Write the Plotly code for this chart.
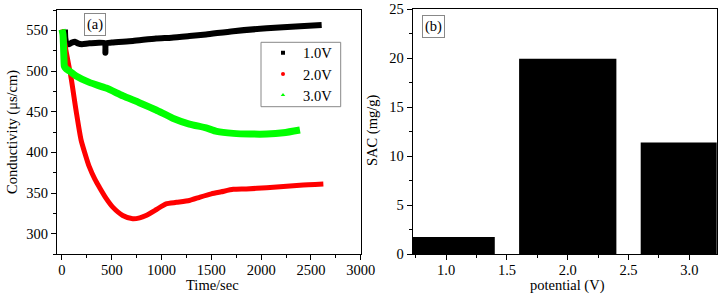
import plotly.graph_objects as go

# ---------------- data ----------------
t_1v = [30, 34, 45, 70, 100, 130, 160, 200, 275, 430, 436, 442, 500, 711, 945, 1100, 1280, 1447, 1720, 2056, 2390, 2608]
c_1v = [551, 540, 534, 533, 535, 536, 534, 533, 534, 534, 522.5, 534, 535, 537, 540, 541, 543, 545, 549, 552.5, 555, 556.5]

t_2v = [0, 20, 41, 91, 142, 192, 240, 275, 330, 376, 440, 510, 610, 711, 780, 844, 945, 1045, 1150, 1280, 1387, 1500, 1600, 1720, 1850, 2056, 2390, 2625]
c_2v = [551, 540, 524.6, 492, 451, 415, 395, 382, 367, 357, 344, 332.6, 322.4, 318.4, 319.5, 322.4, 329.4, 336.7, 338.5, 340.8, 345, 349, 351.5, 354.5, 355, 356.5, 359.5, 361]

t_3v = [0, 10, 20, 24, 40, 74, 142, 275, 443, 610, 777, 945, 1112, 1279, 1447, 1554, 1720, 1888, 2056, 2223, 2390]
c_3v = [551, 545, 515, 506, 503, 500, 494, 486, 479, 469.5, 461, 452, 442, 434.8, 430, 425.7, 423.3, 422.5, 422.5, 424, 427.4]

series_names = ["1.0V", "2.0V", "3.0V"]

potential = [1.0, 2.0, 3.0]
sac = [1.73, 19.95, 11.4]

# ---------------- figure ----------------
FONT = "Liberation Serif"
W, H = 720, 295

fig = go.Figure()

colors = ["#000000", "#ff0000", "#00ff00"]
symbols = ["square", "circle", "triangle-up"]
widths = [6, 5, 7]
for t, c, col, w in zip([t_1v, t_2v, t_3v], [c_1v, c_2v, c_3v], colors, widths):
    fig.add_trace(go.Scatter(x=t, y=c, mode="lines",
                             line=dict(color=col, width=w, shape="spline", smoothing=0.6),
                             showlegend=False, xaxis="x", yaxis="y"))

# legend entries (marker symbols as in the reference), one legend box per row
legend_ids = ["legend", "legend2", "legend3"]
for name, col, sym, lid in zip(series_names, colors, symbols, legend_ids):
    fig.add_trace(go.Scatter(x=[None], y=[None], mode="markers", name=name,
                             marker=dict(color=col, symbol=sym, size=4),
                             legend=lid, xaxis="x", yaxis="y"))

fig.add_trace(go.Bar(x=potential, y=sac, width=0.8, marker=dict(color="black", line=dict(width=0)),
                     showlegend=False, xaxis="x2", yaxis="y2"))

axis_common = dict(showline=True, linecolor="black", linewidth=1.3, mirror=True,
                   ticks="outside", ticklen=5, tickwidth=1, tickcolor="black",
                   showgrid=False, zeroline=False, automargin=False,
                   tickfont=dict(family=FONT, size=14.5, color="black"))


def ann(text, x, y, **kw):
    d = dict(text=text, x=x / W, y=1 - y / H, xref="paper", yref="paper",
             xanchor="center", yanchor="middle", showarrow=False,
             font=dict(family=FONT, size=14.5, color="black"))
    d.update(kw)
    return d


def leg(ypix):
    return dict(x=263 / W, y=1 - ypix / H, xanchor="left", yanchor="middle",
                borderwidth=0, bgcolor="rgba(0,0,0,0)",
                font=dict(family=FONT, size=14.5, color="black"))


fig.update_layout(
    width=W, height=H,
    margin=dict(l=0, r=0, t=0, b=0, autoexpand=False),
    paper_bgcolor="white", plot_bgcolor="white",
    font=dict(family=FONT, size=14.5, color="black"),
    xaxis=dict(domain=[57 / W, 360.7 / W], range=[-50, 3000], tick0=0, dtick=500,
               minor=dict(dtick=250, ticks="outside", ticklen=3, tickcolor="black"),
               ticklabelstandoff=-3, anchor="y", **axis_common),
    yaxis=dict(domain=[1 - 254 / H, 1 - 10 / H], range=[275, 575], tick0=300, dtick=50,
               minor=dict(dtick=25, ticks="outside", ticklen=3, tickcolor="black"),
               anchor="x", **axis_common),
    xaxis2=dict(domain=[412.7 / W, 716.7 / W], range=[0.725, 3.225], tick0=1, dtick=0.5,
                tickformat=".1f",
                minor=dict(dtick=0.25, ticks="outside", ticklen=3, tickcolor="black"),
                ticklabelstandoff=-3, anchor="y2", **axis_common),
    yaxis2=dict(domain=[1 - 254 / H, 1 - 9.3 / H], range=[0, 25], tick0=0, dtick=5,
                minor=dict(dtick=2.5, ticks="outside", ticklen=3, tickcolor="black"),
                anchor="x2", **axis_common),
    legend=leg(52.7),
    legend2=leg(74),
    legend3=leg(95),
    shapes=[
        dict(type="rect", xref="paper", yref="paper",
             x0=261 / W, x1=340.7 / W, y0=1 - 106.7 / H, y1=1 - 42.3 / H,
             line=dict(color="#888888", width=1), fillcolor="rgba(0,0,0,0)", layer="above"),
    ],
    annotations=[
        ann("(a)", 95, 24.5, bordercolor="#888888", borderwidth=1, borderpad=2, bgcolor="white"),
        ann("(b)", 433.5, 26.3, bordercolor="#888888", borderwidth=1, borderpad=2, bgcolor="white"),
        ann("Conductivity (μs/cm)", 12, 132, textangle=-90),
        ann("SAC (mg/g)", 372, 131, textangle=-90),
        ann("Time/sec", 212, 285),
        ann("potential (V)", 567, 285),
    ],
)

fig.write_html("out.html", config={"displayModeBar": False},
               post_script="document.body.style.margin='0';document.body.style.overflow='hidden';")
